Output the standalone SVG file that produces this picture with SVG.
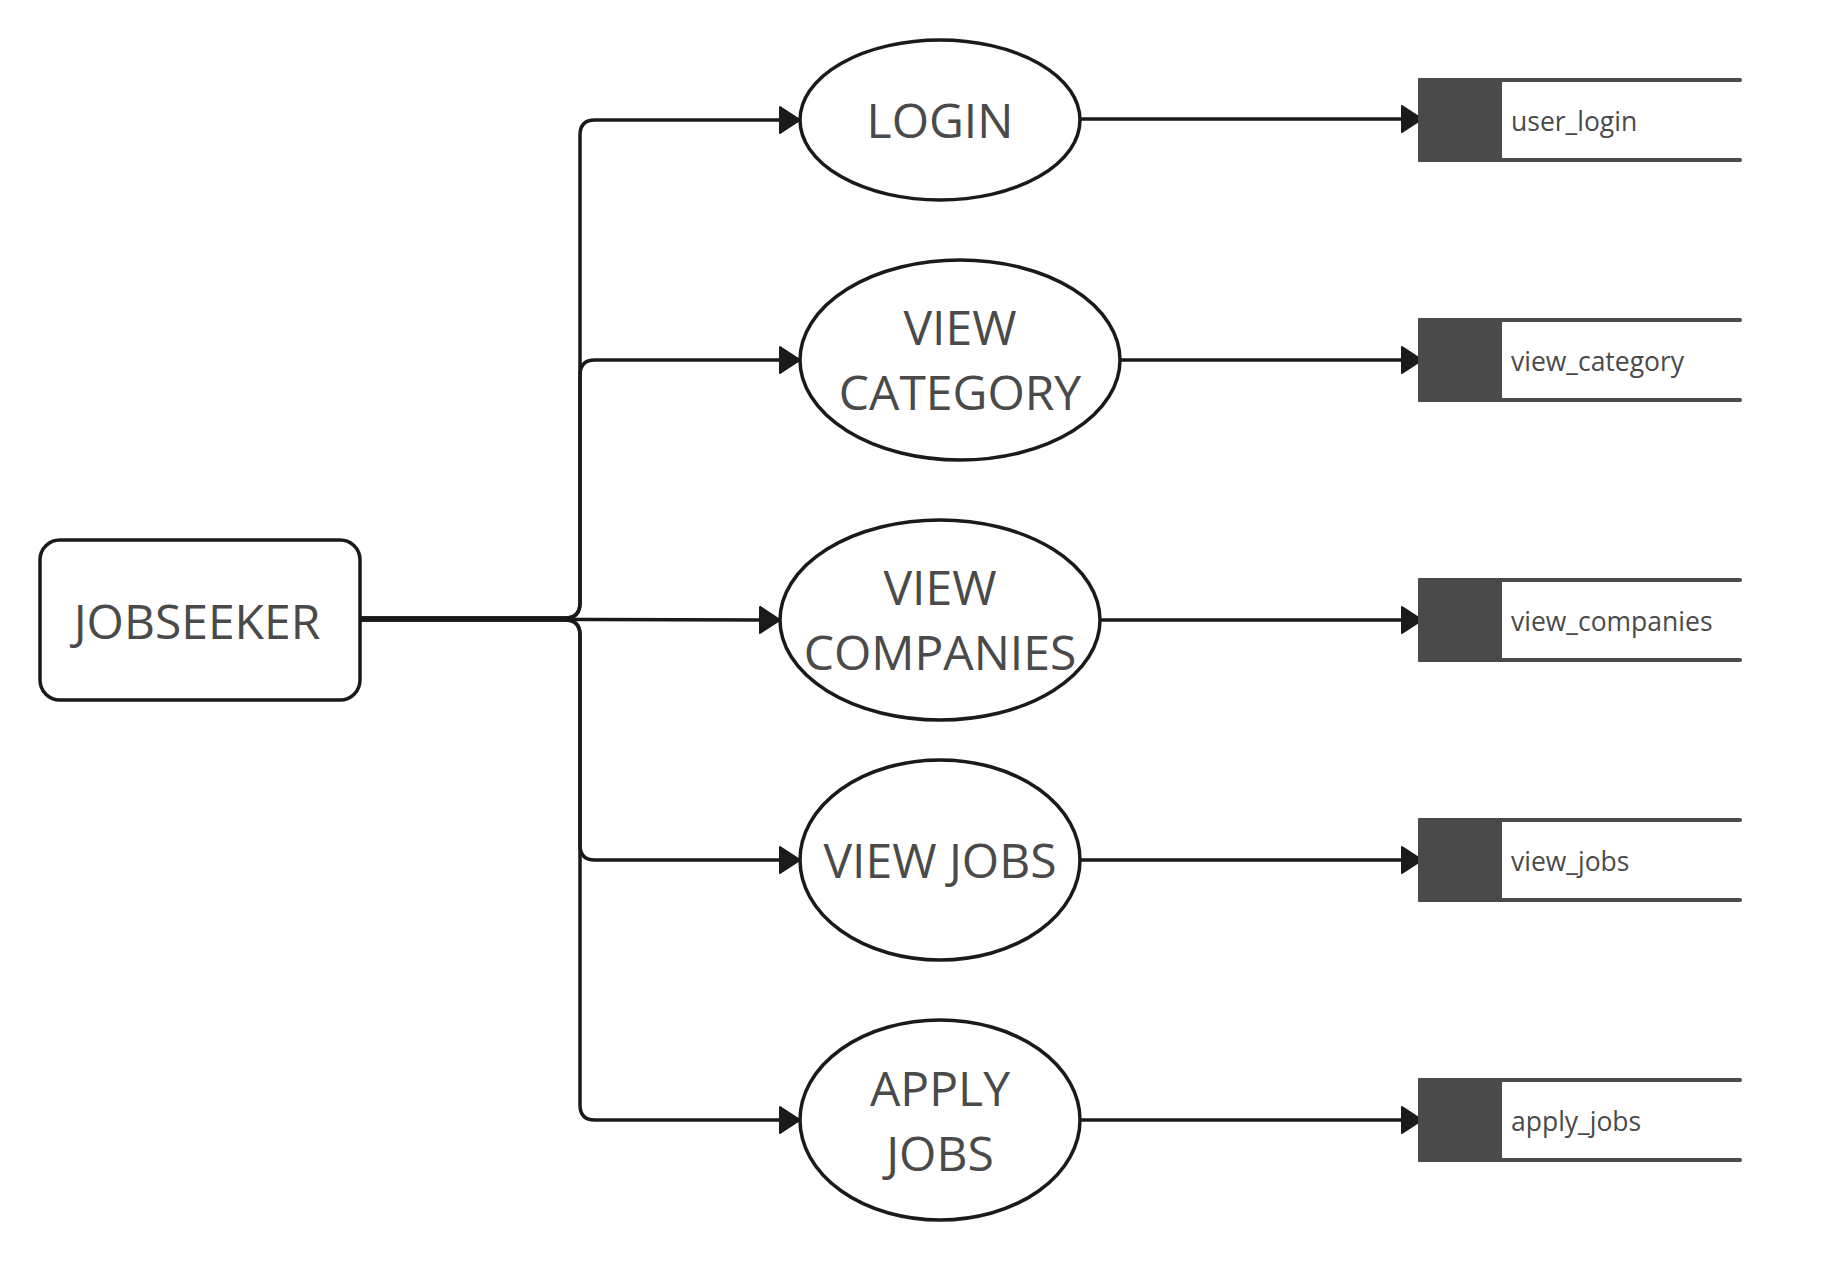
<svg xmlns="http://www.w3.org/2000/svg" width="1831" height="1263" viewBox="0 0 1831 1263">
<style>
.bg{fill:#ffffff}
.node{fill:#ffffff;stroke:#1a1a1a;stroke-width:3.5}
.big{font-family:"Open Sans","Noto Sans","DejaVu Sans",sans-serif;font-size:48px;fill:#4a4a4a;text-anchor:middle}
.small{font-family:"Open Sans","Noto Sans","DejaVu Sans",sans-serif;font-size:26.5px;fill:#4a4a4a}
.conn{fill:none;stroke:#1a1a1a;stroke-width:3.5;stroke-linejoin:round}
.storebox{fill:#4a4a4a}
.storeline{stroke:#4a4a4a;stroke-width:4;stroke-linecap:round}
</style>
<defs>
<marker id="arrow" markerUnits="userSpaceOnUse" markerWidth="24" markerHeight="30" viewBox="0 0 24 30" refX="21" refY="15" orient="auto">
<path d="M1,2 L21,15 L1,28 Z" fill="#1a1a1a" stroke="#1a1a1a" stroke-width="2" stroke-linejoin="round"/>
</marker>
</defs>
<rect class="bg" x="0" y="0" width="1831" height="1263"/>

<g id="connectors">
<path class="conn" d="M360 618 H565 Q580 618 580 603 V135 Q580 120 595 120 H800" marker-end="url(#arrow)"/>
<path class="conn" d="M360 618 H565 Q580 618 580 603 V375 Q580 360 595 360 H800" marker-end="url(#arrow)"/>
<path class="conn" d="M360 619 L780 620" marker-end="url(#arrow)"/>
<path class="conn" d="M360 620 H565 Q580 620 580 635 V845 Q580 860 595 860 H800" marker-end="url(#arrow)"/>
<path class="conn" d="M360 620 H565 Q580 620 580 635 V1105 Q580 1120 595 1120 H800" marker-end="url(#arrow)"/>
<path class="conn" d="M1080 119 H1422" marker-end="url(#arrow)"/>
<path class="conn" d="M1120 360 H1422" marker-end="url(#arrow)"/>
<path class="conn" d="M1100 620 H1422" marker-end="url(#arrow)"/>
<path class="conn" d="M1080 860 H1422" marker-end="url(#arrow)"/>
<path class="conn" d="M1080 1120 H1422" marker-end="url(#arrow)"/>
</g>

<g id="jobseeker">
<rect class="node" x="40" y="540" width="320" height="160" rx="20" ry="20"/>
<text class="big" x="197" y="639">JOBSEEKER</text>
</g>

<g id="login">
<ellipse class="node" cx="940" cy="120" rx="140" ry="80"/>
<text class="big" x="940" y="138">LOGIN</text>
</g>

<g id="view-category">
<ellipse class="node" cx="960" cy="360" rx="160" ry="100"/>
<text class="big" x="960" y="345">VIEW</text>
<text class="big" x="960" y="410">CATEGORY</text>
</g>

<g id="view-companies">
<ellipse class="node" cx="940" cy="620" rx="160" ry="100"/>
<text class="big" x="940" y="605">VIEW</text>
<text class="big" x="940" y="670">COMPANIES</text>
</g>

<g id="view-jobs">
<ellipse class="node" cx="940" cy="860" rx="140" ry="100"/>
<text class="big" x="940" y="878">VIEW JOBS</text>
</g>

<g id="apply-jobs">
<ellipse class="node" cx="940" cy="1120" rx="140" ry="100"/>
<text class="big" x="940" y="1106">APPLY</text>
<text class="big" x="940" y="1171">JOBS</text>
</g>

<g id="store-user-login">
<rect class="storebox" x="1418" y="78" width="84" height="84" rx="1"/>
<line class="storeline" x1="1500" y1="80" x2="1740" y2="80"/>
<line class="storeline" x1="1500" y1="160" x2="1740" y2="160"/>
<text class="small" x="1511" y="131">user_login</text>
</g>

<g id="store-view-category">
<rect class="storebox" x="1418" y="318" width="84" height="84" rx="1"/>
<line class="storeline" x1="1500" y1="320" x2="1740" y2="320"/>
<line class="storeline" x1="1500" y1="400" x2="1740" y2="400"/>
<text class="small" x="1511" y="371">view_category</text>
</g>

<g id="store-view-companies">
<rect class="storebox" x="1418" y="578" width="84" height="84" rx="1"/>
<line class="storeline" x1="1500" y1="580" x2="1740" y2="580"/>
<line class="storeline" x1="1500" y1="660" x2="1740" y2="660"/>
<text class="small" x="1511" y="631">view_companies</text>
</g>

<g id="store-view-jobs">
<rect class="storebox" x="1418" y="818" width="84" height="84" rx="1"/>
<line class="storeline" x1="1500" y1="820" x2="1740" y2="820"/>
<line class="storeline" x1="1500" y1="900" x2="1740" y2="900"/>
<text class="small" x="1511" y="871">view_jobs</text>
</g>

<g id="store-apply-jobs">
<rect class="storebox" x="1418" y="1078" width="84" height="84" rx="1"/>
<line class="storeline" x1="1500" y1="1080" x2="1740" y2="1080"/>
<line class="storeline" x1="1500" y1="1160" x2="1740" y2="1160"/>
<text class="small" x="1511" y="1131">apply_jobs</text>
</g>
</svg>
